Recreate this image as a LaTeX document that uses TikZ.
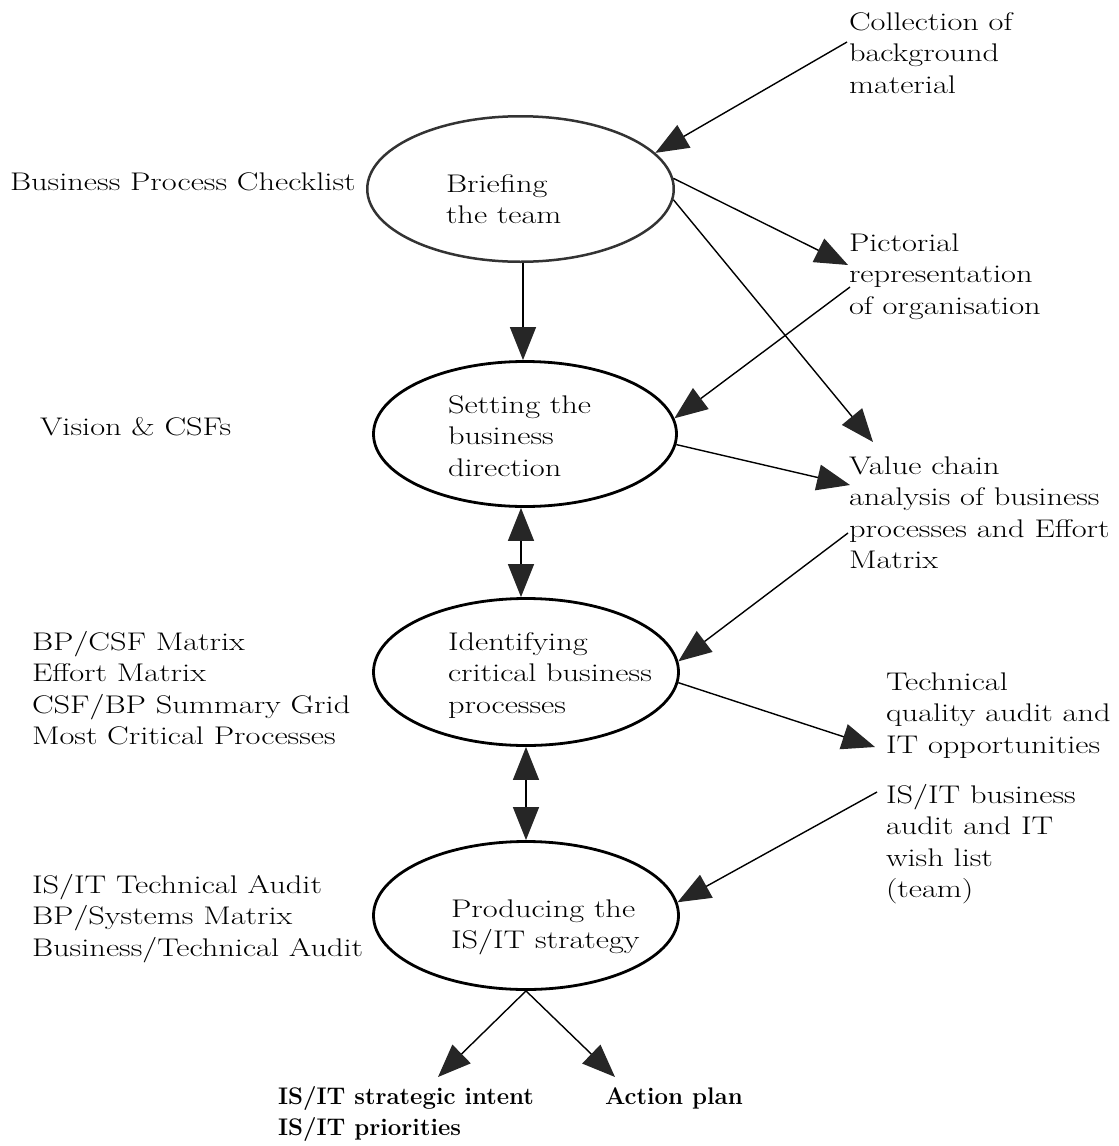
\documentclass[tikz,border=0pt]{standalone}
\usepackage{fontspec}
\setmainfont{Latin Modern Roman}[FakeStretch=1.27]
\newfontfamily\plainlm{Latin Modern Roman}
\usetikzlibrary{arrows.meta,shapes.geometric}
\newcommand\fst{\rule{0pt}{20pt}}
\begin{document}
\begin{tikzpicture}[x=1pt,y=-1pt,
  txt/.style={anchor=north west, inner sep=0pt, outer sep=0pt, align=left,
    font=\fontsize{25.5}{31.5}\selectfont},
  bld/.style={txt, font=\plainlm\bfseries\fontsize{24}{31.5}\selectfont},
  stage/.style={ellipse, draw, line width=2.8pt, inner sep=0pt},
  conn/.style={line width=1.4pt, -{Triangle[length=33pt,width=26pt,color=black!85]}},
  dconn/.style={line width=1.4pt, {Triangle[length=33pt,width=26pt,color=black!85]}-{Triangle[length=33pt,width=26pt,color=black!85]}}
]
\useasboundingbox (0,0) rectangle (1119,1146);

% stages
\node[stage, draw=black!80, line width=2.5pt, minimum width=306.5pt, minimum height=145.5pt] (e1) at (520.5,189) {};
\node[stage, minimum width=303pt, minimum height=145pt] (e2) at (525,434) {};
\node[stage, minimum width=305pt, minimum height=147pt] (e3) at (526,672) {};
\node[stage, minimum width=305pt, minimum height=148pt] (e4) at (526,915.5) {};

% stage texts
\node[txt] (t1) at (446,172) {\fst Briefing\\the team};
\node[txt] (t2) at (448,393) {\fst Setting the\\business\\direction};
\node[txt] (t3) at (448,630) {\fst Identifying\\critical business\\processes};
\node[txt] (t4) at (451,897) {\fst Producing the\\IS/IT strategy};

% left texts
\node[txt] (bpc) at (10,170) {\fst Business Process Checklist};
\node[txt] (vis) at (40,415) {\fst Vision \& CSFs};
\node[txt] (bpcsf) at (32,630) {\fst BP/CSF Matrix\\Effort Matrix\\CSF/BP Summary Grid\\Most Critical Processes};
\node[txt] (istech) at (32,873) {\fst IS/IT Technical Audit\\BP/Systems Matrix\\Business/Technical Audit};

% right texts
\node[txt] (coll) at (849,10) {\fst Collection of\\background\\material};
\node[txt] (pict) at (849,231) {\fst Pictorial\\representation\\of organisation};
\node[txt] (vc) at (849,454) {\fst Value chain\\analysis of business\\processes and Effort\\Matrix};
\node[txt] (tq) at (886,670) {\fst Technical\\quality audit and\\IT opportunities};
\node[txt] (isb) at (886,783) {\fst IS/IT business\\audit and IT\\wish list\\(team)};

% outputs
\node[bld] (strat) at (278,1084) {\fst IS/IT strategic intent\\IS/IT priorities};
\node[bld] (act) at (605,1084) {\fst Action plan};

% connectors
\draw[conn] ([xshift=-2pt,yshift=-32pt]coll.north west) -- (e1.15);
\draw[conn] (e1.4) -- ([xshift=-1pt,yshift=-34pt]pict.north west);
\draw[conn] (e1.-4) -- ([xshift=24pt,yshift=12pt]vc.north west);
\draw[conn] ([xshift=1pt,yshift=-56pt]pict.north west) -- (e2.6);
\draw[conn] (e2.-4) -- ([xshift=1pt,yshift=-31pt]vc.north west);
\draw[conn] ([xshift=-1pt,yshift=-79pt]vc.north west) -- (e3.4);
\draw[conn] (e3.-4) -- ([xshift=-11pt,yshift=-77pt]tq.north west);
\draw[conn] ([xshift=-9pt,yshift=-9pt]isb.north west) -- (e4.5);
\draw[conn] ([xshift=2.5pt]e1.south) -- ([xshift=-2pt]e2.north);
\draw[dconn] ([xshift=-4pt]e2.south) -- ([xshift=-5pt]e3.north);
\draw[dconn] (e3.south) -- (e4.north);
\draw[conn] (e4.south) -- ([xshift=160pt,yshift=7pt]strat.north west);
\draw[conn] (e4.south) -- ([xshift=10pt,yshift=7pt]act.north west);
\end{tikzpicture}
\end{document}
